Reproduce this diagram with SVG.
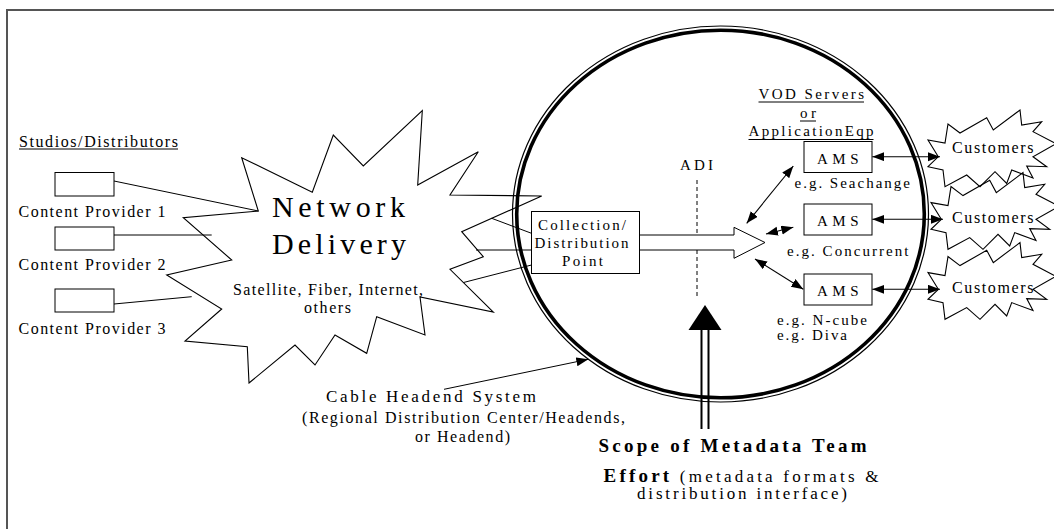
<svg xmlns="http://www.w3.org/2000/svg" width="1054" height="529" viewBox="0 0 1054 529">
  <style>
    text { font-family: "Liberation Serif", "Times New Roman", serif; fill: #000; }
    .s15 { font-size: 15px; }
    .s16 { font-size: 16px; }
    .big { font-size: 30px; }
    .bold { font-weight: bold; }
    .ln { stroke: #000; stroke-width: 1; fill: none; }
    .box { stroke: #000; stroke-width: 1; fill: #fff; }
    .star { stroke: #000; stroke-width: 1.1; fill: none; stroke-linejoin: miter; }
    .arr { stroke: #000; stroke-width: 1.1; fill: none; marker-start: url(#head); marker-end: url(#head); }
    .uline { stroke: #000; stroke-width: 1; }
  </style>
  <defs>
    <marker id="head" markerUnits="userSpaceOnUse" markerWidth="13" markerHeight="10" refX="12" refY="4.5" orient="auto-start-reverse">
      <path d="M0,0 L12,4.5 L0,9 z" fill="#000"/>
    </marker>
    <polygon id="custStar" points="-51.7,0 -62,-16.7 -45,-13.7 -42,-32.7 -30,-23.7 -3.3,-39 3.3,-26.7 30,-46.7 31.7,-31.7 51.7,-35 43,-25 66,-13 43,0 56.7,10 36.7,9.3 43,21.3 21.7,13.3 16.7,26.7 5,15 -10,30 -23.3,18.3 -45,30 -47,13.3 -62,10"/>
  </defs>

  <!-- page frame -->
  <rect x="7" y="10" width="1100" height="600" fill="none" stroke="#555" stroke-width="2"/>

  <!-- network delivery cloud -->
  <g id="network">
    <polygon class="star" points="249,383 295,345 315,365 335,335 366.7,353.3 376.7,316.7 425,335 420,297 493.3,312 450,269.3 483.3,256.7 461.7,231.7 541.7,196 450,195 478.3,151.7 417.7,185 422.3,110.7 363.3,166 333.3,135 312.3,192.3 241.7,157.7 258.3,211 183.3,217.7 231.7,260 166.7,275 221.7,309 185,341 247.3,346.7"/>
    <text class="big" x="272" y="216.5" textLength="133" lengthAdjust="spacing">Network</text>
    <text class="big" x="272" y="253.5" textLength="134" lengthAdjust="spacing">Delivery</text>
    <text class="s16" x="233" y="294.5" textLength="190" lengthAdjust="spacing">Satellite, Fiber, Internet,</text>
    <text class="s16" x="304" y="312.5" textLength="47" lengthAdjust="spacing">others</text>
  </g>

  <!-- cable headend system boundary -->
  <g id="headend">
    <ellipse cx="720.5" cy="214" rx="208" ry="188" fill="none" stroke="#000" stroke-width="1.2"/>
    <ellipse cx="720.5" cy="214" rx="203.8" ry="183.8" fill="none" stroke="#000" stroke-width="3.6"/>
    <text font-size="17" x="326" y="401.7" textLength="210" lengthAdjust="spacing">Cable Headend  System</text>
    <text class="s16" x="302" y="423.3" textLength="323" lengthAdjust="spacing">(Regional Distribution Center/Headends,</text>
    <text class="s16" x="415" y="441.7" textLength="95" lengthAdjust="spacing">or Headend)</text>
  </g>

  <!-- content providers -->
  <g id="studios">
    <text class="s16" x="19" y="146.5" textLength="159" lengthAdjust="spacing">Studios/Distributors</text>
    <line class="uline" x1="19" y1="149" x2="178" y2="149"/>
  </g>
  <g id="provider1">
    <rect class="box" x="55" y="172.5" width="59" height="23.5"/>
    <text class="s16" x="18.5" y="216.5" textLength="147" lengthAdjust="spacing">Content Provider 1</text>
  </g>
  <g id="provider2">
    <rect class="box" x="55" y="227" width="59" height="23"/>
    <text class="s16" x="18.5" y="269.5" textLength="147" lengthAdjust="spacing">Content Provider 2</text>
  </g>
  <g id="provider3">
    <rect class="box" x="55" y="289" width="59" height="23"/>
    <text class="s16" x="18.5" y="333.5" textLength="147" lengthAdjust="spacing">Content Provider 3</text>
  </g>

  <!-- collection / distribution point -->
  <g id="collection">
    <rect class="box" x="531.5" y="211.5" width="108" height="62"/>
    <text class="s15" x="538" y="230" textLength="88" lengthAdjust="spacing">Collection/</text>
    <text class="s15" x="534.5" y="247.5" textLength="94" lengthAdjust="spacing">Distribution</text>
    <text class="s15" x="562" y="265.5" textLength="41" lengthAdjust="spacing">Point</text>
  </g>

  <!-- ADI marker -->
  <g id="adi">
    <text class="s15" x="680" y="170" textLength="33" lengthAdjust="spacing">ADI</text>
    <line x1="697" y1="180" x2="697" y2="297" stroke="#000" stroke-width="1" stroke-dasharray="4,3"/>
  </g>

  <!-- VOD servers -->
  <g id="vod">
    <text class="s15" x="758.5" y="99" textLength="105.5" lengthAdjust="spacing">VOD Servers</text>
    <line class="uline" x1="758.5" y1="102" x2="864" y2="102"/>
    <text class="s15" x="800" y="118.3" textLength="16" lengthAdjust="spacing">or</text>
    <line class="uline" x1="800" y1="121" x2="816" y2="121"/>
    <text class="s15" x="748.5" y="135.5" textLength="125" lengthAdjust="spacing">ApplicationEqp</text>
    <line class="uline" x1="748.5" y1="139.5" x2="873.5" y2="139.5"/>
  </g>
  <g id="ams1">
    <rect class="box" x="804" y="141.5" width="68" height="31"/>
    <text class="s15" x="817" y="164" textLength="41.5" lengthAdjust="spacing">AMS</text>
    <text class="s15" x="794.5" y="188.3" textLength="115.5" lengthAdjust="spacing">e.g. Seachange</text>
  </g>
  <g id="ams2">
    <rect class="box" x="804" y="204" width="68" height="31"/>
    <text class="s15" x="817" y="225.7" textLength="41.5" lengthAdjust="spacing">AMS</text>
    <text class="s15" x="787" y="255.7" textLength="121.5" lengthAdjust="spacing">e.g. Concurrent</text>
  </g>
  <g id="ams3">
    <rect class="box" x="804" y="274" width="68" height="31"/>
    <text class="s15" x="817" y="296" textLength="41.5" lengthAdjust="spacing">AMS</text>
    <text class="s15" x="777" y="325" textLength="90" lengthAdjust="spacing">e.g. N-cube</text>
    <text class="s15" x="777" y="340" textLength="70" lengthAdjust="spacing">e.g. Diva</text>
  </g>

  <!-- customers -->
  <g id="customers1">
    <use href="#custStar" class="star" transform="translate(990,156.7)"/>
    <text class="s16" x="952" y="153.3" textLength="81.5" lengthAdjust="spacing">Customers</text>
  </g>
  <g id="customers2">
    <use href="#custStar" class="star" transform="translate(993,219.3)"/>
    <text class="s16" x="952" y="223.3" textLength="81.5" lengthAdjust="spacing">Customers</text>
  </g>
  <g id="customers3">
    <use href="#custStar" class="star" transform="translate(990,289.3)"/>
    <text class="s16" x="952" y="293.3" textLength="81.5" lengthAdjust="spacing">Customers</text>
  </g>

  <!-- scope of metadata effort -->
  <g id="scope">
    <polygon points="705,305 688.5,330 721.5,330" fill="#000"/>
    <line x1="701.5" y1="329" x2="701.5" y2="429" stroke="#000" stroke-width="2"/>
    <line x1="708.5" y1="329" x2="708.5" y2="429" stroke="#000" stroke-width="2"/>
    <text class="bold" font-size="19" x="598.5" y="451.7" textLength="268" lengthAdjust="spacing">Scope of  Metadata Team</text>
    <text font-size="17" x="603.5" y="481.7" textLength="275" lengthAdjust="spacing"><tspan class="bold" font-size="19">Effort</tspan> (metadata formats &amp;</text>
    <text font-size="17" x="637" y="499.3" textLength="210" lengthAdjust="spacing">distribution interface)</text>
  </g>

  <!-- connectors -->
  <g id="connectors">
    <line class="ln" x1="114" y1="181" x2="258.3" y2="211"/>
    <line class="ln" x1="114" y1="235" x2="211.7" y2="235"/>
    <line class="ln" x1="114" y1="304" x2="191.7" y2="296.7"/>
    <line class="ln" x1="491.7" y1="218.3" x2="531.5" y2="233.3"/>
    <line class="ln" x1="476" y1="250" x2="531.5" y2="250"/>
    <line class="ln" x1="463.5" y1="282.5" x2="531.5" y2="265"/>
    <!-- ingest block arrow -->
    <polygon points="639.5,235 734,235 734,227.3 765,242.5 734,258.3 734,250 639.5,250" fill="#fff" stroke="#000" stroke-width="1"/>
    <line class="arr" x1="746.7" y1="223.3" x2="793.3" y2="166"/>
    <line class="arr" x1="766" y1="234" x2="793.3" y2="227.3"/>
    <line class="arr" x1="755" y1="259" x2="803.3" y2="289.3"/>
    <line class="arr" x1="872.3" y1="156.7" x2="940" y2="156.7"/>
    <line class="arr" x1="872.3" y1="219.3" x2="943" y2="219.3"/>
    <line class="arr" x1="872.3" y1="289.3" x2="940" y2="289.3"/>
    <line class="ln" x1="444" y1="389.3" x2="588.3" y2="359.3" marker-end="url(#head)"/>
  </g>
</svg>
